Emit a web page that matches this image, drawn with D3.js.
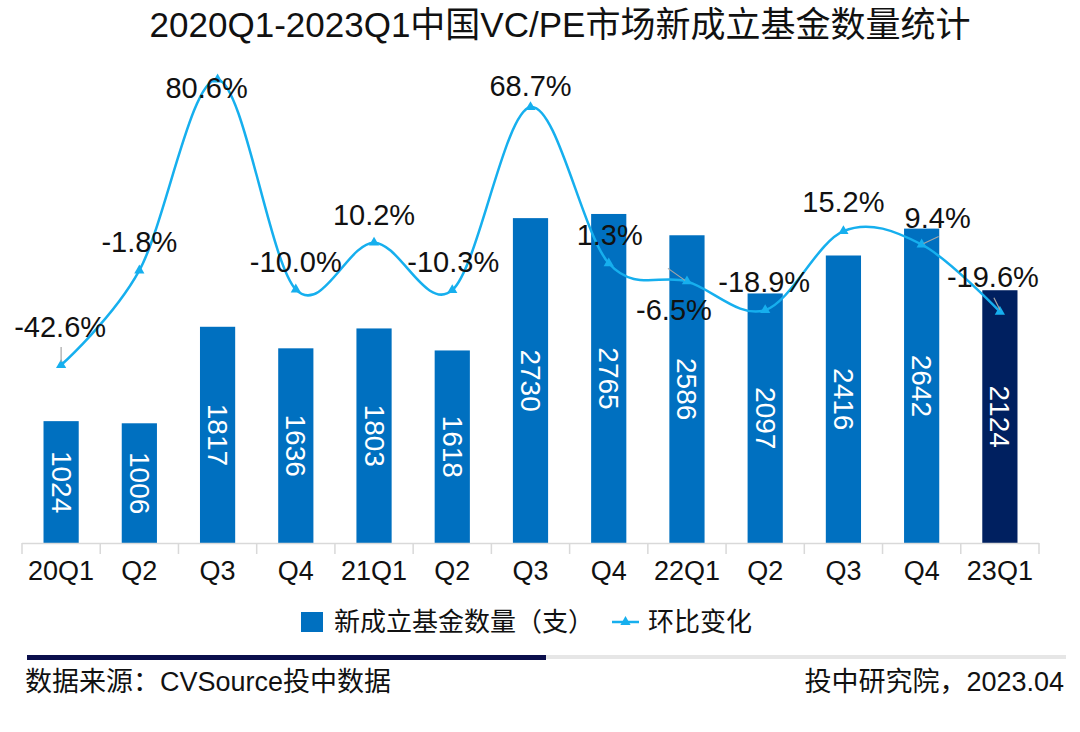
<!DOCTYPE html>
<html><head><meta charset="utf-8">
<script src="https://cdn.jsdelivr.net/npm/d3@7"></script>
<style>
html,body{margin:0;padding:0;background:#fff;}
svg{display:block;}
</style></head>
<body>
<svg id="chart" width="1080" height="732"></svg>
<script>
// ---------------- DATA ----------------
const categories = ["20Q1","Q2","Q3","Q4","21Q1","Q2","Q3","Q4","22Q1","Q2","Q3","Q4","23Q1"];
const fundCounts = [1024,1006,1817,1636,1803,1618,2730,2765,2586,2097,2416,2642,2124];
const qoqChange  = [-42.6,-1.8,80.6,-10.0,10.2,-10.3,68.7,1.3,-6.5,-18.9,15.2,9.4,-19.6];
const titleText = "2020Q1-2023Q1中国VC/PE市场新成立基金数量统计";
const legendBar = "新成立基金数量（支）";
const legendLine = "环比变化";
const sourceText = "数据来源：CVSource投中数据";
const creditText = "投中研究院，2023.04";

// ---------------- LAYOUT ----------------
const FONT = "'Liberation Sans','Noto Sans CJK SC',sans-serif";
const svg = d3.select("#chart");
const baseY = 543;
const idx = categories.map((_, i) => i);
const x = d3.scaleBand().domain(idx).range([22, 1039]).padding(0);
const barW = x.bandwidth() * 0.45;
const y = d3.scaleLinear().domain([0, 3000]).range([baseY, baseY - 357]);
const y2 = d3.scaleLinear().domain([-60, 100]).range([266.3 + 60 * 2.318, 266.3 - 100 * 2.318]);
const cx = i => x(i) + x.bandwidth() / 2;

// title
svg.append("text").attr("x", 560).attr("y", 37).attr("text-anchor", "middle")
  .attr("font-family", FONT).attr("font-size", 35).attr("fill", "#111").text(titleText);

// bars
svg.append("g").selectAll("rect").data(fundCounts).join("rect")
  .attr("x", (d, i) => cx(i) - barW / 2)
  .attr("y", d => y(d))
  .attr("width", barW)
  .attr("height", d => baseY - y(d))
  .attr("fill", (d, i) => i === fundCounts.length - 1 ? "#002060" : "#0070C0");

// bar labels (rotated, centred in bar)
svg.append("g").selectAll("text").data(fundCounts).join("text")
  .attr("transform", (d, i) => `translate(${cx(i)},${(y(d) + baseY) / 2}) rotate(90)`)
  .attr("text-anchor", "middle").attr("dominant-baseline", "central")
  .attr("font-family", FONT).attr("font-size", 28).attr("fill", "#fff")
  .text(d => d);

// x axis
const axisG = svg.append("g");
axisG.append("line").attr("x1", x.range()[0]).attr("x2", x.range()[1])
  .attr("y1", baseY + 0.5).attr("y2", baseY + 0.5).attr("stroke", "#D9D9D9").attr("stroke-width", 1.5);
const tickXs = idx.map(i => x(i)).concat([x.range()[1]]);
axisG.selectAll("line.tick").data(tickXs).join("line").attr("class", "tick")
  .attr("x1", d => d).attr("x2", d => d).attr("y1", baseY).attr("y2", baseY + 11)
  .attr("stroke", "#D9D9D9").attr("stroke-width", 1.5);
axisG.selectAll("text").data(categories).join("text")
  .attr("x", (d, i) => cx(i)).attr("y", 580).attr("text-anchor", "middle")
  .attr("font-family", FONT).attr("font-size", 27).attr("fill", "#111").text(d => d);

// line
const lineColor = "#16AFEE";
const line = d3.line().x((d, i) => cx(i)).y(d => y2(d)).curve(d3.curveCardinal.tension(0));
svg.append("path").datum(qoqChange).attr("d", line)
  .attr("fill", "none").attr("stroke", lineColor).attr("stroke-width", 2.5);
const tri = d3.symbol().type(d3.symbolTriangle).size(45);
svg.append("g").selectAll("path").data(qoqChange).join("path")
  .attr("d", tri).attr("transform", (d, i) => `translate(${cx(i)},${y2(d)})`).attr("fill", lineColor);

// line labels: offsets of label centre relative to point
const labelOffsets = [[-1,-38],[0,-28],[-11,9],[0,-27],[0,-28],[1,-28],[0,-21],[1,-28],[-13,29],[-1,-28],[0,-29],[16,-27],[-7,-35]];
const leaders = {0:[[0,-18],[0,-3]], 8:[[-19,-13],[-2,-1]], 11:[[2,-1],[17,-8]], 12:[[-6,-14],[0,-2]]};
Object.entries(leaders).forEach(([k, seg]) => {
  const i = +k, px = cx(i), py = y2(qoqChange[i]);
  svg.append("line").attr("x1", px + seg[0][0]).attr("y1", py + seg[0][1])
    .attr("x2", px + seg[1][0]).attr("y2", py + seg[1][1])
    .attr("stroke", "#A6A6A6").attr("stroke-width", 1.2);
});
svg.append("g").selectAll("text").data(qoqChange).join("text")
  .attr("x", (d, i) => cx(i) + labelOffsets[i][0])
  .attr("y", (d, i) => y2(d) + labelOffsets[i][1])
  .attr("text-anchor", "middle").attr("dominant-baseline", "central")
  .attr("font-family", FONT).attr("font-size", 29).attr("fill", "#111")
  .text(d => d.toFixed(1) + "%");

// legend
const lg = svg.append("g");
lg.append("rect").attr("x", 301).attr("y", 612).attr("width", 22).attr("height", 20).attr("fill", "#0070C0");
lg.append("text").attr("x", 334).attr("y", 622).attr("dominant-baseline", "central")
  .attr("font-family", FONT).attr("font-size", 26).attr("fill", "#111").text(legendBar);
lg.append("line").attr("x1", 612).attr("x2", 639).attr("y1", 622).attr("y2", 622)
  .attr("stroke", lineColor).attr("stroke-width", 2.5);
lg.append("path").attr("d", tri).attr("transform", "translate(625.5,622)").attr("fill", lineColor);
lg.append("text").attr("x", 648).attr("y", 622).attr("dominant-baseline", "central")
  .attr("font-family", FONT).attr("font-size", 26).attr("fill", "#111").text(legendLine);

// footer
svg.append("rect").attr("x", 27).attr("y", 655).attr("width", 519).attr("height", 5).attr("fill", "#0B0F4C");
svg.append("rect").attr("x", 546).attr("y", 655).attr("width", 520).attr("height", 4).attr("fill", "#E6E6E6");
svg.append("text").attr("x", 25).attr("y", 682).attr("dominant-baseline", "central")
  .attr("font-family", FONT).attr("font-size", 27).attr("fill", "#111").text(sourceText);
svg.append("text").attr("x", 1064).attr("y", 682).attr("dominant-baseline", "central").attr("text-anchor", "end")
  .attr("font-family", FONT).attr("font-size", 27).attr("fill", "#111").text(creditText);
</script>
</body></html>
